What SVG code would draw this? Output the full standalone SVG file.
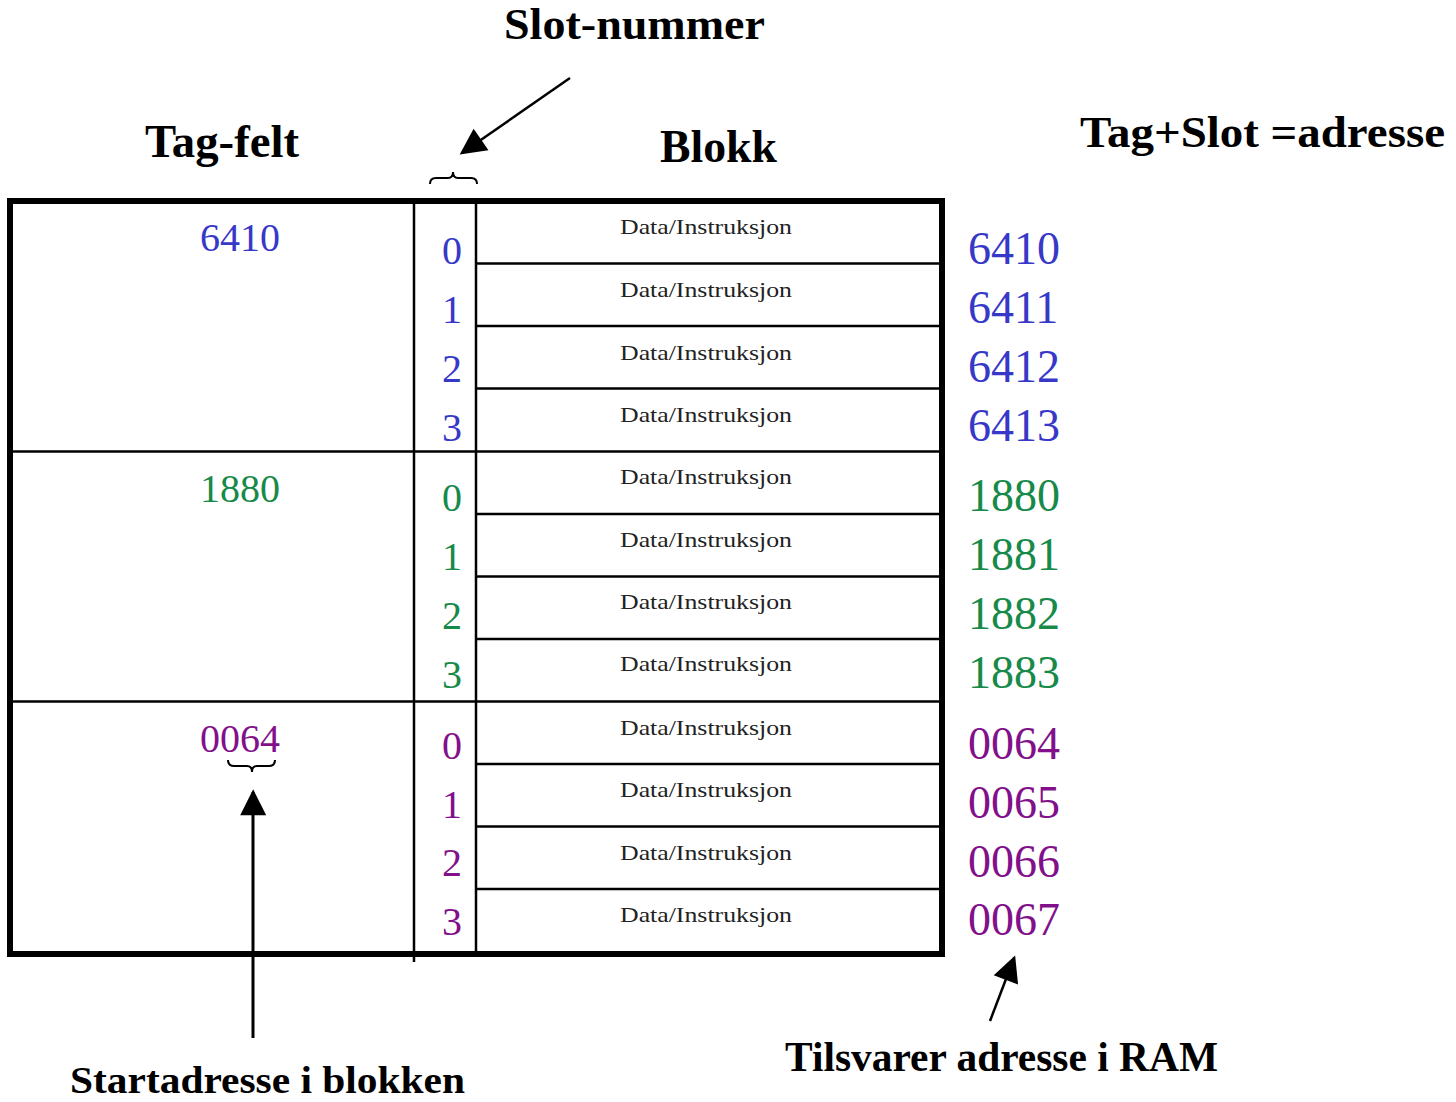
<svg xmlns="http://www.w3.org/2000/svg" width="1456" height="1102" viewBox="0 0 1456 1102">
<style>
.h{font-family:"Liberation Serif",serif;font-weight:bold;fill:#000}
.d{font-family:"Liberation Serif",serif;font-size:22px;fill:#222}
.s{font-family:"Liberation Serif",serif;font-size:40px;text-anchor:middle}
.t{font-family:"Liberation Serif",serif;font-size:40px;text-anchor:middle}
.r{font-family:"Liberation Serif",serif;font-size:46px}
.b{fill:#3838c8}.g{fill:#178a4a}.p{fill:#82108a}
.ln{stroke:#000;stroke-width:2.5;fill:none}
.th{stroke:#000;stroke-width:6;fill:none}
.br{stroke:#000;stroke-width:2;fill:none}
</style>
<defs>
<marker id="ah" viewBox="0 0 10 10" refX="9" refY="5" markerWidth="10" markerHeight="10" markerUnits="userSpaceOnUse" orient="auto" overflow="visible">
<path d="M0,0 L10,5 L0,10 Z" transform="scale(2.6) translate(-5.5,-3)" fill="#000"/>
</marker>
</defs>
<g id="headers">
<text class="h" x="504" y="39" font-size="44" textLength="261" lengthAdjust="spacingAndGlyphs">Slot-nummer</text>
<text class="h" x="145" y="157" font-size="46" textLength="154" lengthAdjust="spacingAndGlyphs">Tag-felt</text>
<text class="h" x="660" y="162" font-size="46" textLength="117" lengthAdjust="spacingAndGlyphs">Blokk</text>
<text class="h" x="1080" y="147" font-size="44" textLength="365" lengthAdjust="spacingAndGlyphs">Tag+Slot =adresse</text>
<text class="h" x="70" y="1093" font-size="38" textLength="395" lengthAdjust="spacingAndGlyphs">Startadresse i blokken</text>
<text class="h" x="785" y="1071" font-size="42" textLength="433" lengthAdjust="spacingAndGlyphs">Tilsvarer adresse i RAM</text>
</g>
<g id="table">
<line class="ln" x1="414" y1="201" x2="414" y2="962"/>
<line class="ln" x1="476" y1="201" x2="476" y2="954"/>
<g id="rowlines">
<line class="ln" x1="476" y1="263.5" x2="942" y2="263.5"/>
<line class="ln" x1="476" y1="326" x2="942" y2="326"/>
<line class="ln" x1="476" y1="388.5" x2="942" y2="388.5"/>
<line class="ln" x1="10" y1="451.5" x2="942" y2="451.5"/>
<line class="ln" x1="476" y1="514" x2="942" y2="514"/>
<line class="ln" x1="476" y1="576.5" x2="942" y2="576.5"/>
<line class="ln" x1="476" y1="639" x2="942" y2="639"/>
<line class="ln" x1="10" y1="701.5" x2="942" y2="701.5"/>
<line class="ln" x1="476" y1="764" x2="942" y2="764"/>
<line class="ln" x1="476" y1="826.5" x2="942" y2="826.5"/>
<line class="ln" x1="476" y1="889" x2="942" y2="889"/>
</g>
<rect class="th" x="10" y="201" width="932" height="753"/>
</g>
<g id="data">
<text class="d" x="620" y="234" textLength="172" lengthAdjust="spacingAndGlyphs">Data/Instruksjon</text>
<text class="d" x="620" y="297" textLength="172" lengthAdjust="spacingAndGlyphs">Data/Instruksjon</text>
<text class="d" x="620" y="360" textLength="172" lengthAdjust="spacingAndGlyphs">Data/Instruksjon</text>
<text class="d" x="620" y="422" textLength="172" lengthAdjust="spacingAndGlyphs">Data/Instruksjon</text>
<text class="d" x="620" y="484" textLength="172" lengthAdjust="spacingAndGlyphs">Data/Instruksjon</text>
<text class="d" x="620" y="547" textLength="172" lengthAdjust="spacingAndGlyphs">Data/Instruksjon</text>
<text class="d" x="620" y="609" textLength="172" lengthAdjust="spacingAndGlyphs">Data/Instruksjon</text>
<text class="d" x="620" y="671" textLength="172" lengthAdjust="spacingAndGlyphs">Data/Instruksjon</text>
<text class="d" x="620" y="735" textLength="172" lengthAdjust="spacingAndGlyphs">Data/Instruksjon</text>
<text class="d" x="620" y="797" textLength="172" lengthAdjust="spacingAndGlyphs">Data/Instruksjon</text>
<text class="d" x="620" y="860" textLength="172" lengthAdjust="spacingAndGlyphs">Data/Instruksjon</text>
<text class="d" x="620" y="922" textLength="172" lengthAdjust="spacingAndGlyphs">Data/Instruksjon</text>
</g>
<g id="tags">
<text class="t b" x="240" y="251">6410</text>
<text class="t g" x="240" y="502">1880</text>
<text class="t p" x="240" y="752">0064</text>
</g>
<g id="slots">
<text class="s b" x="452" y="264">0</text>
<text class="s b" x="452" y="323">1</text>
<text class="s b" x="452" y="382">2</text>
<text class="s b" x="452" y="441">3</text>
<text class="s g" x="452" y="511">0</text>
<text class="s g" x="452" y="570">1</text>
<text class="s g" x="452" y="629">2</text>
<text class="s g" x="452" y="688">3</text>
<text class="s p" x="452" y="759">0</text>
<text class="s p" x="452" y="818">1</text>
<text class="s p" x="452" y="876">2</text>
<text class="s p" x="452" y="935">3</text>
</g>
<g id="addresses">
<text class="r b" x="968" y="264">6410</text>
<text class="r b" x="968" y="323">6411</text>
<text class="r b" x="968" y="382">6412</text>
<text class="r b" x="968" y="441">6413</text>
<text class="r g" x="968" y="511">1880</text>
<text class="r g" x="968" y="570">1881</text>
<text class="r g" x="968" y="629">1882</text>
<text class="r g" x="968" y="688">1883</text>
<text class="r p" x="968" y="759">0064</text>
<text class="r p" x="968" y="818">0065</text>
<text class="r p" x="968" y="877">0066</text>
<text class="r p" x="968" y="935">0067</text>
</g>
<g id="connectors">
<path class="br" d="M430,184 Q430,178 436,178 L448,178 Q453,178 453,172 Q453,178 458,178 L471,178 Q477,178 477,184"/>
<path class="br" d="M228,760 Q228,766 234,766 L247,766 Q252,766 252,772 Q252,766 257,766 L269,766 Q275,766 275,760"/>
<line x1="570" y1="78" x2="462" y2="153" stroke="#000" stroke-width="2.5" marker-end="url(#ah)"/>
<line x1="253" y1="1038" x2="253" y2="792" stroke="#000" stroke-width="3" marker-end="url(#ah)"/>
<line x1="990" y1="1021" x2="1014" y2="958" stroke="#000" stroke-width="2.5" marker-end="url(#ah)"/>
</g>
</svg>
